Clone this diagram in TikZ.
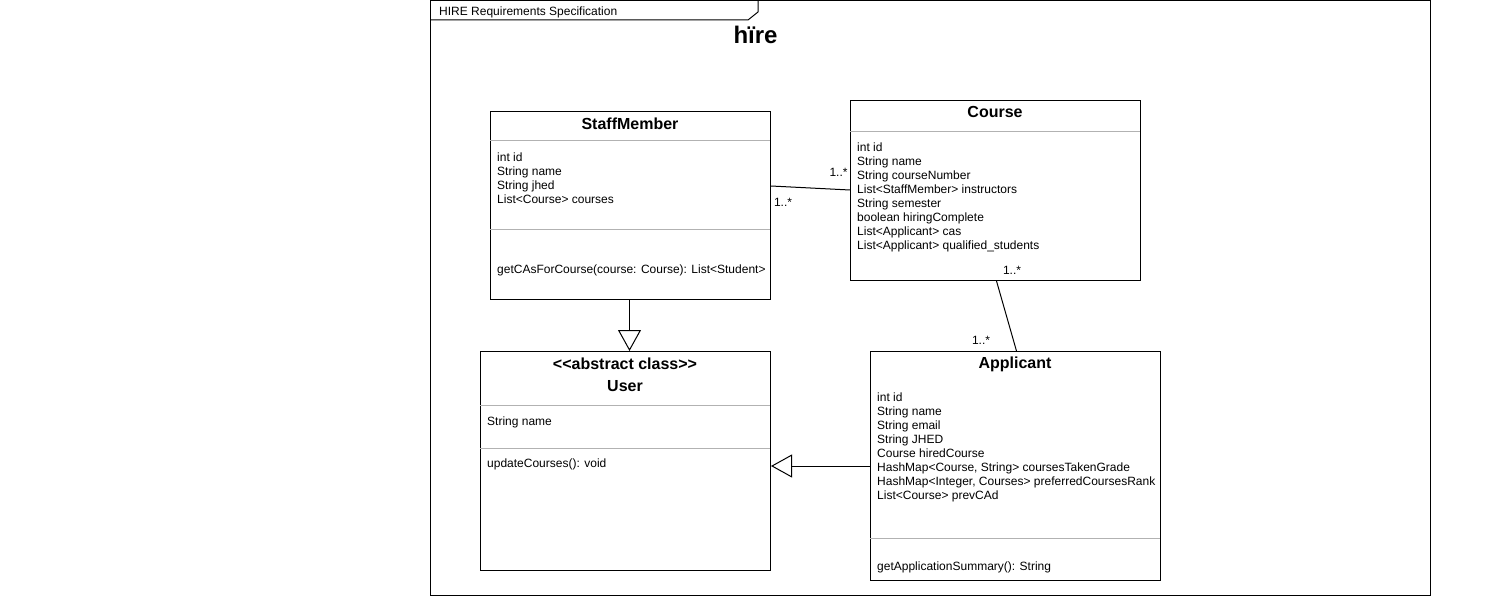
\documentclass[tikz,border=0pt]{standalone}
\usepackage{fontspec}
\setmainfont{Liberation Sans}
\usetikzlibrary{arrows.meta,calc}
\begin{document}
\begin{tikzpicture}[x=1pt,y=-1pt,
  cls/.style={draw, line width=1pt, fill=white, inner sep=0, anchor=north west},
  sepline/.style={draw=gray!60, line width=1pt},
  txt/.style={font=\fontsize{12}{14}\selectfont, inner sep=0, anchor=north west, align=left},
  lbl/.style={font=\fontsize{12}{14}\selectfont, inner sep=0, anchor=base},
  hdr/.style={font=\bfseries\fontsize{16}{19}\selectfont, inner sep=0, anchor=base},
  gen/.style={-{Triangle[open, length=21pt, width=23pt]}, line width=1pt},
  assoc/.style={line width=1pt}
]
\useasboundingbox (0,0) rectangle (1511,596);
% frame
\draw[line width=1pt] (430,1) rectangle (1430,595);
\draw[line width=1pt] (430,20) -- (748,20) -- (758,12) -- (758,1);
\node[font=\fontsize{12}{14}\selectfont, inner sep=0, anchor=base west] (title) at (439,15.5) {HIRE Requirements Specification};
\node[font=\bfseries\fontsize{24}{28}\selectfont, inner sep=0, anchor=base] (logo) at (755.5,44) {hïre};

% StaffMember
\node[cls, minimum width=280, minimum height=188] (staff) at (490,111) {};
\draw[sepline] (490,141) -- (770,141);
\draw[sepline] (490,229) -- (770,229);
\node[hdr] (staffh) at (630,129.5) {StaffMember};
\node[txt] (staffa) at (497,151.2) {\strut int id\\\strut String name\\\strut String jhed\\\strut List<Course> courses};
\node[txt] (staffm) at (497,263.2) {\strut getCAsForCourse(course: Course): List<Student>};

% Course
\node[cls, minimum width=290, minimum height=180] (course) at (850,100) {};
\draw[sepline] (850,132) -- (1140,132);
\node[hdr] (courseh) at (995,118) {Course};
\node[txt] (coursea) at (857,141.2) {\strut int id\\\strut String name\\\strut String courseNumber\\\strut List<StaffMember> instructors\\\strut String semester\\\strut boolean hiringComplete\\\strut List<Applicant> cas\\\strut List<Applicant> qualified\_students};

% User
\node[cls, minimum width=290, minimum height=219] (user) at (480,351) {};
\draw[sepline] (480,405) -- (770,405);
\draw[sepline] (480,448) -- (770,448);
\node[hdr] (userst) at (625,369) {<\kern0pt<abstract class>\kern0pt>};
\node[hdr] (userh) at (625,391.5) {User};
\node[txt] (usera) at (487,415.2) {\strut String name};
\node[txt] (userm) at (487,457.2) {\strut updateCourses(): void};

% Applicant
\node[cls, minimum width=290, minimum height=229] (app) at (870,351) {};
\draw[sepline] (870,538) -- (1160,538);
\node[hdr] (apph) at (1015,368) {Applicant};
\node[txt] (appa) at (877,391.2) {\strut int id\\\strut String name\\\strut String email\\\strut String JHED\\\strut Course hiredCourse\\\strut HashMap<Course, String> coursesTakenGrade\\\strut HashMap<Integer, Courses> preferredCoursesRank\\\strut List<Course> prevCAd};
\node[txt] (appm) at (877,560.2) {\strut getApplicationSummary(): String};

% connectors
\coordinate (sc1) at ($(staff.north east)+(0,75)$);
\coordinate (sc2) at ($(course.north west)+(0,90)$);
\draw[assoc] (sc1) -- (sc2);
\node[lbl] (m1) at (838.5,176.3) {1..*};
\node[lbl] (m2) at (783,206.3) {1..*};

\coordinate (ca1) at ($(course.south)+(1,0)$);
\coordinate (ca2) at ($(app.north)+(1,0)$);
\draw[assoc] (ca1) -- (ca2);
\node[lbl] (m3) at (1012,274.3) {1..*};
\node[lbl] (m4) at (981,344.3) {1..*};

\coordinate (su1) at ($(staff.south)+(-1,0)$);
\draw[gen] (su1) -- (su1 |- user.north);

\coordinate (au1) at ($(app.north west)+(0,115)$);
\draw[gen] (au1) -- (au1 -| user.east);
\end{tikzpicture}
\end{document}
